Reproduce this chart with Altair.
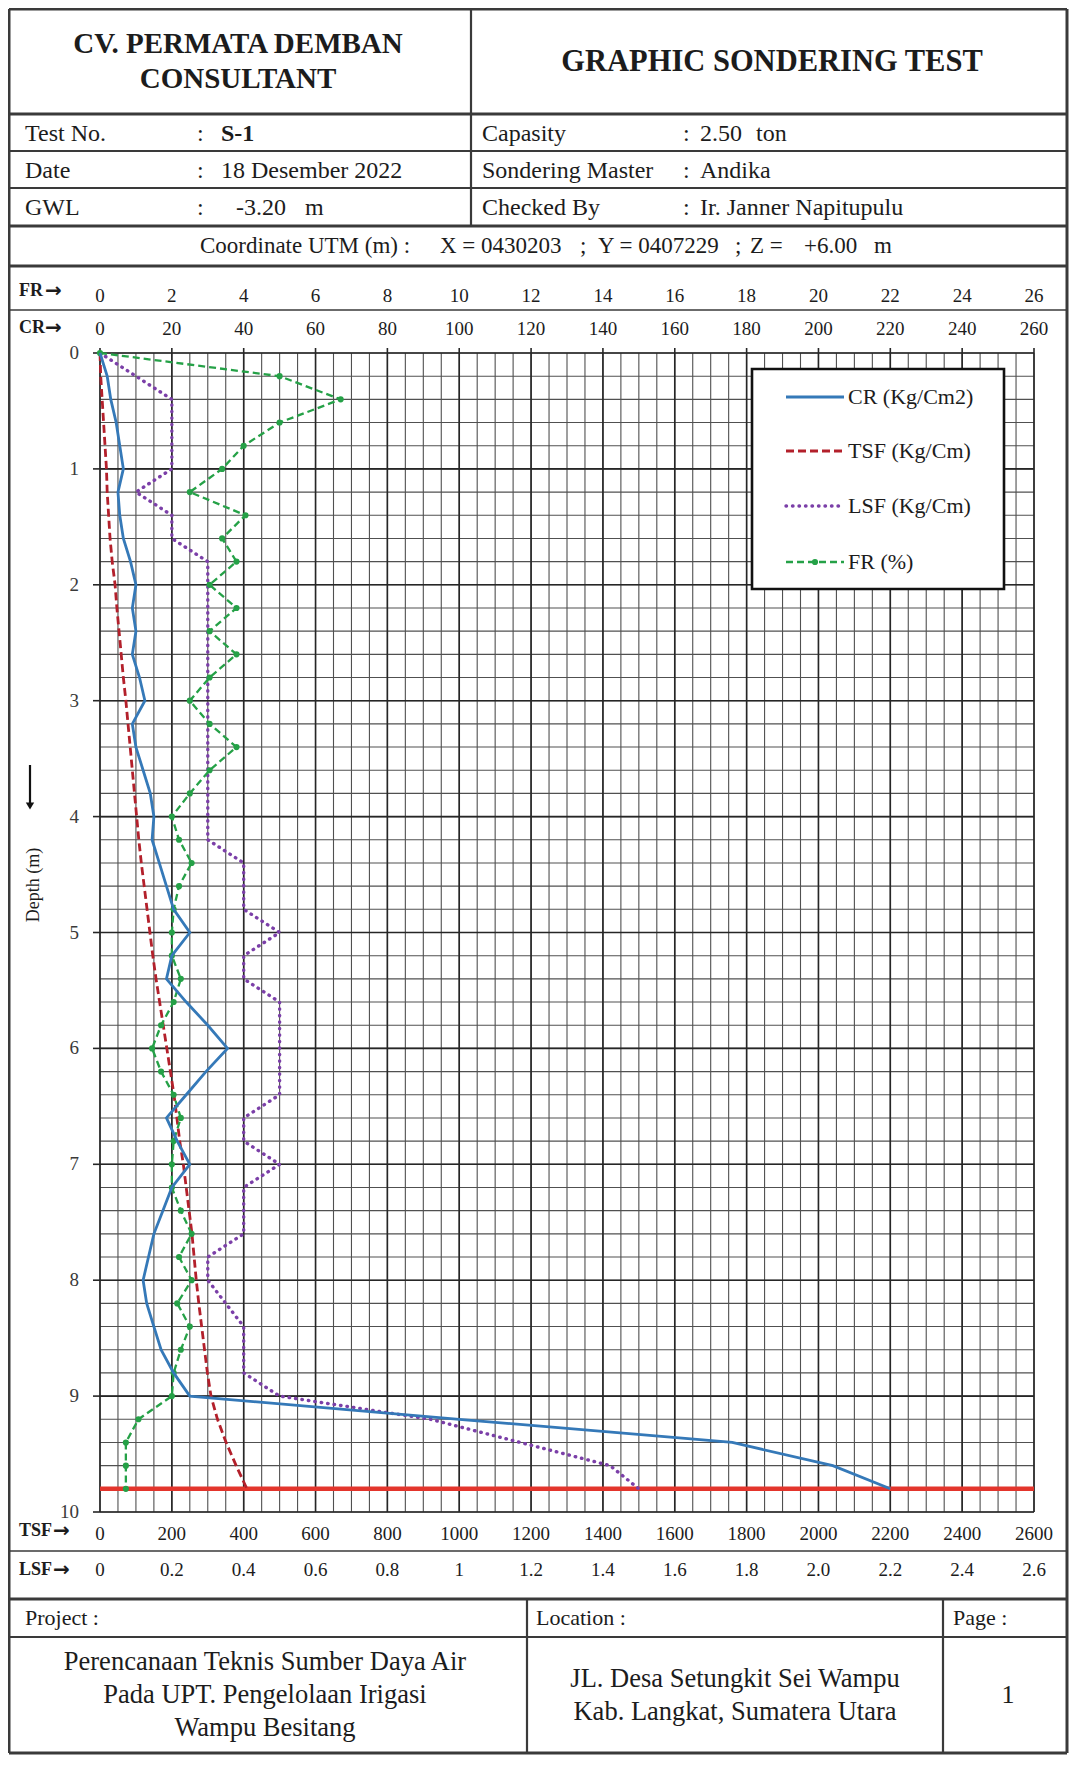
import altair as alt
import pandas as pd

# ---------------- data ----------------
DEPTH = [0.0, 0.2, 0.4, 0.6, 0.8, 1.0, 1.2, 1.4, 1.6, 1.8,
         2.0, 2.2, 2.4, 2.6, 2.8, 3.0, 3.2, 3.4, 3.6, 3.8,
         4.0, 4.2, 4.4, 4.6, 4.8, 5.0, 5.2, 5.4, 5.6, 5.8,
         6.0, 6.2, 6.4, 6.6, 6.8, 7.0, 7.2, 7.4, 7.6, 7.8,
         8.0, 8.2, 8.4, 8.6, 8.8, 9.0, 9.2, 9.4, 9.6, 9.8]

CR = [0, 2, 3, 4.5, 5.5, 6.5, 5, 5.5, 6.5, 8.5,
      10, 9, 10, 9, 11, 12.5, 9, 10, 12, 14,
      15, 14.5, 16.5, 18.5, 20.5, 25, 20, 18.5, 24, 30,
      35.5, 29.5, 24, 18.5, 21.5, 25, 20, 17.5, 15, 13.5,
      12, 13, 15, 17, 20.5, 25, 100, 176, 204, 220]

TSF = [0, 2, 6, 10, 14, 18, 20, 24, 28, 34,
       42, 47, 53, 59, 65, 72, 78, 84, 90, 96,
       102, 108, 115, 123, 131, 139, 147, 156, 166, 176,
       186, 196, 206, 214, 222, 232, 240, 248, 256, 262,
       268, 275, 283, 291, 299, 309, 327, 351, 379, 409]

LSF = [0, 0.1, 0.2, 0.2, 0.2, 0.2, 0.1, 0.2, 0.2, 0.3,
       0.3, 0.3, 0.3, 0.3, 0.3, 0.3, 0.3, 0.3, 0.3, 0.3,
       0.3, 0.3, 0.4, 0.4, 0.4, 0.5, 0.4, 0.4, 0.5, 0.5,
       0.5, 0.5, 0.5, 0.4, 0.4, 0.5, 0.4, 0.4, 0.4, 0.3,
       0.3, 0.35, 0.4, 0.4, 0.4, 0.5, 0.92, 1.17, 1.42, 1.5]

FR = [0, 5.0, 6.7, 5.0, 4.0, 3.4, 2.5, 4.05, 3.4, 3.8,
      3.05, 3.8, 3.05, 3.8, 3.05, 2.5, 3.05, 3.8, 3.05, 2.5,
      2.0, 2.2, 2.55, 2.2, 2.05, 2.0, 2.0, 2.25, 2.05, 1.7,
      1.45, 1.7, 2.05, 2.25, 2.05, 2.0, 2.0, 2.25, 2.55, 2.2,
      2.55, 2.15, 2.5, 2.25, 2.05, 2.0, 1.07, 0.72, 0.72, 0.72]

END_DEPTH = [9.8]

CR_TICKS = [0, 20, 40, 60, 80, 100, 120, 140, 160, 180, 200, 220, 240, 260]
FR_TICKS = [0, 2, 4, 6, 8, 10, 12, 14, 16, 18, 20, 22, 24, 26]
TSF_TICKS = [0, 200, 400, 600, 800, 1000, 1200, 1400, 1600, 1800, 2000, 2200, 2400, 2600]
LSF_TICK_VALUES = [0, 0.2, 0.4, 0.6, 0.8, 1.0, 1.2, 1.4, 1.6, 1.8, 2.0, 2.2, 2.4, 2.6]
LSF_TICK_LABELS = ["0", "0.2", "0.4", "0.6", "0.8", "1", "1.2", "1.4", "1.6", "1.8",
                   "2.0", "2.2", "2.4", "2.6"]
DEPTH_TICKS = [0, 1, 2, 3, 4, 5, 6, 7, 8, 9, 10]
GRID_X_MINOR = list(range(0, 261, 5))
GRID_Y_MINOR = [round(i * 0.2, 1) for i in range(51)]

# ---------------- layout helpers ----------------
OX, OY = 100, 353          # page position of plot origin
W, H = 934, 1159
SERIF = "Liberation Serif"
INK = "#1c1c1c"
LINE = "#3a3a3a"

ONE = pd.DataFrame({"k": [0]})
xs = alt.Scale(domain=[0, 260], nice=False, zero=False)
ys = alt.Scale(domain=[0, 10], reverse=True, nice=False, zero=False)


def text_layer(s, fx, fy, size=24, bold=False, align="left", font=SERIF, angle=None, color=INK):
    kw = dict(text=s, align=align, baseline="middle", font=font, fontSize=size,
              fontWeight="bold" if bold else "normal", color=color)
    if angle is not None:
        kw["angle"] = angle
    return alt.Chart(ONE).mark_text(**kw).encode(x=alt.value(fx - OX), y=alt.value(fy - OY))


def hrule(fx1, fx2, fy, w=2.5, color=LINE, dash=None):
    kw = dict(color=color, strokeWidth=w)
    if dash:
        kw["strokeDash"] = dash
    return alt.Chart(ONE).mark_rule(**kw).encode(
        x=alt.value(fx1 - OX), x2=alt.value(fx2 - OX), y=alt.value(fy - OY))


def vrule(fx, fy1, fy2, w=2.5, color=LINE):
    return alt.Chart(ONE).mark_rule(color=color, strokeWidth=w).encode(
        x=alt.value(fx - OX), y=alt.value(fy1 - OY), y2=alt.value(fy2 - OY))


layers = []

# ---------------- grid ----------------
layers.append(alt.Chart(pd.DataFrame({"v": GRID_X_MINOR})).mark_rule(color="#505050", strokeWidth=1.1)
              .encode(x=alt.X("v:Q", scale=xs, axis=None)))
layers.append(alt.Chart(pd.DataFrame({"v": GRID_Y_MINOR})).mark_rule(color="#505050", strokeWidth=1.1)
              .encode(y=alt.Y("v:Q", scale=ys, axis=None)))
layers.append(alt.Chart(pd.DataFrame({"v": CR_TICKS})).mark_rule(color="#262626", strokeWidth=1.6)
              .encode(x=alt.X("v:Q", scale=xs, axis=None)))
layers.append(alt.Chart(pd.DataFrame({"v": DEPTH_TICKS})).mark_rule(color="#262626", strokeWidth=1.6)
              .encode(y=alt.Y("v:Q", scale=ys, axis=None)))

# tick marks outside the plot
layers.append(alt.Chart(pd.DataFrame({"v": CR_TICKS})).mark_rule(color="#262626", strokeWidth=1.6)
              .encode(x=alt.X("v:Q", scale=xs, axis=None), y=alt.value(-5), y2=alt.value(0)))
layers.append(alt.Chart(pd.DataFrame({"v": DEPTH_TICKS})).mark_rule(color="#262626", strokeWidth=1.6)
              .encode(y=alt.Y("v:Q", scale=ys, axis=None), x=alt.value(-7), x2=alt.value(0)))

# end-of-test line
layers.append(alt.Chart(pd.DataFrame({"d": END_DEPTH})).mark_rule(color="#e3352c", strokeWidth=4.5)
              .encode(y=alt.Y("d:Q", scale=ys, axis=None)))

# ---------------- data series ----------------
df = pd.DataFrame({"depth": DEPTH, "CR": CR, "TSF": TSF, "LSF": LSF, "FR": FR})

tsf = (alt.Chart(df).transform_calculate(x="datum.TSF / 10")
       .mark_line(color="#b3202b", strokeWidth=2.8, strokeDash=[8, 4])
       .encode(x=alt.X("x:Q", scale=xs, axis=None), y=alt.Y("depth:Q", scale=ys, axis=None),
               order=alt.Order("depth:Q")))
lsf = (alt.Chart(df).transform_calculate(x="datum.LSF * 100")
       .mark_line(color="#7b3fa8", strokeWidth=3.4, strokeDash=[0.5, 6], strokeCap="round")
       .encode(x=alt.X("x:Q", scale=xs, axis=None), y=alt.Y("depth:Q", scale=ys, axis=None),
               order=alt.Order("depth:Q")))
fr = (alt.Chart(df).transform_calculate(x="datum.FR * 10")
      .mark_line(color="#25a147", strokeWidth=2.3, strokeDash=[7, 4],
                 point=alt.OverlayMarkDef(filled=True, size=38, color="#25a147"))
      .encode(x=alt.X("x:Q", scale=xs, axis=None), y=alt.Y("depth:Q", scale=ys, axis=None),
              order=alt.Order("depth:Q")))
cr = (alt.Chart(df).mark_line(color="#3579b8", strokeWidth=2.8)
      .encode(x=alt.X("CR:Q", scale=xs, axis=None), y=alt.Y("depth:Q", scale=ys, axis=None),
              order=alt.Order("depth:Q")))
layers += [tsf, lsf, fr, cr]

# ---------------- legend ----------------
layers.append(alt.Chart(ONE).mark_rect(fill="white", stroke="#111", strokeWidth=2.6)
              .encode(x=alt.value(752 - OX), x2=alt.value(1004 - OX),
                      y=alt.value(369 - OY), y2=alt.value(589 - OY)))
layers.append(hrule(786, 844, 397, w=2.8, color="#3579b8"))
layers.append(hrule(786, 844, 451, w=2.8, color="#b3202b", dash=[8, 4]))
layers.append(alt.Chart(ONE).mark_rule(color="#7b3fa8", strokeWidth=3.4, strokeDash=[0.5, 6], strokeCap="round")
              .encode(x=alt.value(786 - OX), x2=alt.value(844 - OX), y=alt.value(506 - OY)))
layers.append(hrule(786, 844, 562, w=2.3, color="#25a147", dash=[7, 4]))
layers.append(alt.Chart(ONE).mark_point(filled=True, size=38, color="#25a147", opacity=1)
              .encode(x=alt.value(815 - OX), y=alt.value(562 - OY)))
layers.append(text_layer("CR (Kg/Cm2)", 848, 397, size=22))
layers.append(text_layer("TSF (Kg/Cm)", 848, 451, size=22))
layers.append(text_layer("LSF (Kg/Cm)", 848, 506, size=22))
layers.append(text_layer("FR (%)", 848, 562, size=22))

# ---------------- scale labels ----------------
layers.append(alt.Chart(pd.DataFrame({"v": CR_TICKS}))
              .mark_text(font=SERIF, fontSize=19, color=INK, baseline="middle")
              .encode(x=alt.X("v:Q", scale=xs, axis=None), y=alt.value(329 - OY), text="v:N"))
layers.append(alt.Chart(pd.DataFrame({"v": DEPTH_TICKS}))
              .mark_text(font=SERIF, fontSize=19, color="#3a3a3a", baseline="middle", align="right")
              .encode(y=alt.Y("v:Q", scale=ys, axis=None), x=alt.value(-21), text="v:N"))
layers.append(alt.Chart(pd.DataFrame({"v": FR_TICKS})).transform_calculate(x="datum.v * 10")
              .mark_text(font=SERIF, fontSize=19, color=INK, baseline="middle")
              .encode(x=alt.X("x:Q", scale=xs, axis=None), y=alt.value(296 - OY), text="v:N"))
layers.append(alt.Chart(pd.DataFrame({"v": TSF_TICKS})).transform_calculate(x="datum.v / 10")
              .mark_text(font=SERIF, fontSize=19, color=INK, baseline="middle")
              .encode(x=alt.X("x:Q", scale=xs, axis=None), y=alt.value(1534 - OY), text="v:N"))
layers.append(alt.Chart(pd.DataFrame({"v": LSF_TICK_VALUES, "lab": LSF_TICK_LABELS}))
              .transform_calculate(x="datum.v * 100")
              .mark_text(font=SERIF, fontSize=19, color=INK, baseline="middle")
              .encode(x=alt.X("x:Q", scale=xs, axis=None), y=alt.value(1570 - OY), text="lab:N"))

for name, fy in [("FR", 291), ("CR", 328), ("TSF", 1531), ("LSF", 1570)]:
    layers.append(text_layer(name, 19, fy, size=18, bold=True))
    ax = 19 + (26 if len(name) == 2 else 34)
    layers.append(text_layer("\u2192", ax, fy, size=20, bold=True, font="DejaVu Sans"))

# depth title and arrow
layers.append(text_layer("Depth (m)", 34, 885, size=18, align="center", angle=270))
layers.append(vrule(30, 765, 806, w=2.2, color="#111"))
layers.append(alt.Chart(ONE).mark_point(shape="triangle-down", filled=True, size=70, color="#111", opacity=1)
              .encode(x=alt.value(30 - OX), y=alt.value(806 - OY)))

# ---------------- header / footer table ----------------
L, R, T, B = 9, 1067, 9, 1753
for fy, w in [(T, 3), (114, 3), (151, 2.2), (188, 2.2), (226, 3), (266, 3), (310, 1.6),
              (1551, 1.6), (1599, 3), (1637, 2.2), (B, 3)]:
    layers.append(hrule(L, R, fy, w=w))
layers.append(vrule(L, T, B, w=3))
layers.append(vrule(R, T, B, w=3))
layers.append(vrule(471, T, 226, w=2.2))
layers.append(vrule(527, 1599, B, w=2.2))
layers.append(vrule(943, 1599, B, w=2.2))

layers.append(text_layer("CV. PERMATA DEMBAN", 238, 44, size=29, bold=True, align="center"))
layers.append(text_layer("CONSULTANT", 238, 79, size=29, bold=True, align="center"))
layers.append(text_layer("GRAPHIC SONDERING TEST", 772, 62, size=30.5, bold=True, align="center"))

rows = [(134, "Test No.", "S-1", "Capasity", "2.50"),
        (171, "Date", "18 Desember 2022", "Sondering Master", "Andika"),
        (208, "GWL", "-3.20", "Checked By", "Ir. Janner Napitupulu")]
for fy, l1, v1, l2, v2 in rows:
    layers.append(text_layer(l1, 25, fy))
    layers.append(text_layer(":", 197, fy))
    layers.append(text_layer(v1, 221 if v1 != "-3.20" else 236, fy, bold=(v1 == "S-1")))
    layers.append(text_layer(l2, 482, fy))
    layers.append(text_layer(":", 683, fy))
    layers.append(text_layer(v2, 700, fy))
layers.append(text_layer("m", 305, 208))
layers.append(text_layer("ton", 756, 134))

for s, fx in [("Coordinate UTM (m) :", 200), ("X = 0430203", 440), (";", 580), ("Y = 0407229", 598),
              (";", 735), ("Z =", 750), ("+6.00", 804), ("m", 874)]:
    layers.append(text_layer(s, fx, 246, size=23))

layers.append(text_layer("Project :", 25, 1618, size=22))
layers.append(text_layer("Location :", 536, 1618, size=22))
layers.append(text_layer("Page :", 953, 1618, size=22))
for s, fy in [("Perencanaan Teknis Sumber Daya Air", 1662), ("Pada UPT. Pengelolaan Irigasi", 1695),
              ("Wampu Besitang", 1728)]:
    layers.append(text_layer(s, 265, fy, size=26.5, align="center"))
for s, fy in [("JL. Desa Setungkit Sei Wampu", 1679), ("Kab. Langkat, Sumatera Utara", 1712)]:
    layers.append(text_layer(s, 735, fy, size=26.5, align="center"))
layers.append(text_layer("1", 1008, 1695, size=26, align="center"))

chart = (alt.layer(*layers)
         .properties(width=W, height=H,
                     padding={"left": OX - 8, "top": OY - 8, "right": 1061 - (OX - 8) - W,
                              "bottom": 1747 - (OY - 8) - H},
                     autosize=alt.AutoSizeParams(type="none"),
                     background="white")
         .configure_view(strokeWidth=0))

chart.save("out.html", embed_options={"renderer": "svg", "actions": False})
